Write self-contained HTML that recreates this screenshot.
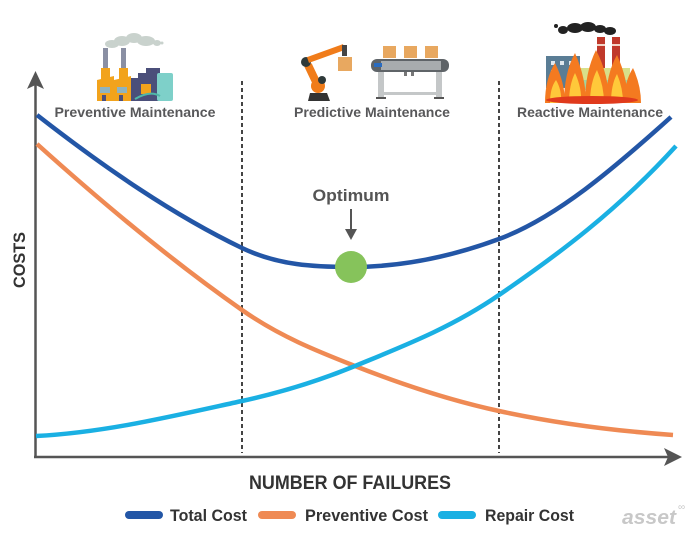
<!DOCTYPE html>
<html><head><meta charset="utf-8"><style>
html,body{margin:0;padding:0;background:#fff;}
svg{display:block;}
text{font-family:"Liberation Sans",Arial,sans-serif;}
</style></head><body>
<svg width="700" height="543" viewBox="0 0 700 543" xmlns="http://www.w3.org/2000/svg">
<rect width="700" height="543" fill="#fff"/>

<!-- Icon 1: preventive factory -->
<g>
<ellipse cx="112" cy="44" rx="7" ry="4" fill="#c9d2cd"/>
<ellipse cx="122" cy="41" rx="8" ry="5" fill="#c9d2cd"/>
<ellipse cx="134" cy="38" rx="8" ry="5" fill="#c9d2cd"/>
<ellipse cx="146" cy="41" rx="9" ry="5" fill="#c9d2cd"/>
<ellipse cx="157" cy="43" rx="4" ry="3" fill="#c9d2cd"/>
<circle cx="162" cy="43" r="1.5" fill="#c9d2cd"/>
<rect x="103" y="48" width="5" height="22" fill="#8a8fa3"/>
<rect x="121" y="48" width="5" height="22" fill="#8a8fa3"/>
<rect x="101" y="68" width="9" height="14" fill="#f2a31c"/>
<rect x="119" y="68" width="9" height="14" fill="#f2a31c"/>
<polygon points="130,101 130,78 138,78 138,73 146,73 146,68 160,68 160,101" fill="#4b4f7a"/>
<rect x="157" y="73" width="16" height="28" rx="2" fill="#7ed0c9"/>
<polygon points="97,101 97,80 114,76 114,80 131,76 131,101" fill="#f2a31c"/>
<rect x="100" y="87" width="10" height="6" fill="#8fb3bf"/>
<rect x="117" y="87" width="10" height="6" fill="#8fb3bf"/>
<rect x="102" y="95" width="4" height="6" fill="#4b4f7a"/>
<rect x="119" y="95" width="4" height="6" fill="#4b4f7a"/>
<rect x="141" y="84" width="10" height="10" fill="#f2a31c"/>
<path d="M135 99 Q150 90 160 96" stroke="#4fb7a8" stroke-width="2" fill="none"/>
</g>

<!-- Icon 2: predictive robot + conveyor -->
<g>
<polygon points="308,101 310,93 327,93 330,101" fill="#333"/>
<circle cx="318" cy="86" r="7" fill="#f07c1a"/>
<line x1="318" y1="86" x2="308" y2="65" stroke="#f07c1a" stroke-width="8"/>
<circle cx="306" cy="62" r="5" fill="#2f3a3a"/>
<line x1="308" y1="60" x2="344" y2="47" stroke="#f07c1a" stroke-width="6"/>
<circle cx="322" cy="80" r="4" fill="#2f3a3a"/>
<rect x="342" y="45" width="5" height="11" fill="#444"/>
<rect x="338" y="57" width="14" height="14" fill="#e8a860"/>
<rect x="371" y="59" width="78" height="13" rx="6" fill="#5f6468"/>
<rect x="381" y="61" width="60" height="9" fill="#a8acae"/>
<rect x="374" y="63" width="8" height="4" fill="#2a6cc0"/>
<rect x="378" y="72" width="6" height="25" fill="#c4c7c8"/>
<rect x="436" y="72" width="6" height="25" fill="#c4c7c8"/>
<rect x="378" y="92" width="64" height="3" fill="#c4c7c8"/>
<rect x="376" y="97" width="10" height="2" fill="#555"/>
<rect x="434" y="97" width="10" height="2" fill="#555"/>
<rect x="404" y="72" width="3" height="4" fill="#777"/>
<rect x="411" y="72" width="3" height="4" fill="#777"/>
<rect x="383" y="46" width="13" height="12" fill="#e8a860"/>
<rect x="404" y="46" width="13" height="12" fill="#e8a860"/>
<rect x="425" y="46" width="13" height="12" fill="#e8a860"/>
</g>

<!-- Icon 3: reactive, burning factory -->
<g>
<ellipse cx="563" cy="30" rx="5" ry="4" fill="#222"/>
<ellipse cx="575" cy="28" rx="8" ry="5" fill="#222"/>
<ellipse cx="588" cy="27" rx="8" ry="5" fill="#222"/>
<ellipse cx="600" cy="29" rx="6" ry="4" fill="#222"/>
<ellipse cx="610" cy="31" rx="6" ry="4" fill="#222"/>
<circle cx="556" cy="26" r="2" fill="#222"/>
<rect x="597" y="37" width="8" height="32" fill="#c0392b"/>
<rect x="612" y="37" width="8" height="32" fill="#c0392b"/>
<rect x="597" y="44" width="8" height="2" fill="#f2d6c8"/>
<rect x="612" y="44" width="8" height="2" fill="#f2d6c8"/>
<rect x="546" y="56" width="34" height="32" fill="#5a7d95"/>
<rect x="551" y="61" width="4" height="4" fill="#dfe8ee"/>
<rect x="560" y="61" width="4" height="4" fill="#dfe8ee"/>
<rect x="569" y="61" width="4" height="4" fill="#dfe8ee"/>
<rect x="551" y="70" width="4" height="4" fill="#dfe8ee"/>
<rect x="569" y="70" width="4" height="4" fill="#dfe8ee"/>
<rect x="570" y="68" width="60" height="12" fill="#d8e08a"/>
<rect x="572" y="80" width="56" height="10" fill="#9fd5a0"/>
<path d="M545 103 Q545 79 555 63 Q565 83 565 103 Z" fill="#f47a20"/>
<path d="M564 103 Q564 73 575 53 Q586 78 586 103 Z" fill="#f47a20"/>
<path d="M585 103 Q585 72 596 50 Q609 75 609 103 Z" fill="#f47a20"/>
<path d="M606 103 Q606 74 617 55 Q628 79 628 103 Z" fill="#f47a20"/>
<path d="M624 103 Q624 82 633 68 Q641 85 641 103 Z" fill="#f47a20"/>
<path d="M550 103 Q550 88 556 80 Q562 90 561 103 Z" fill="#ffc93a"/>
<path d="M569 103 Q569 85 575 73 Q582 88 581 103 Z" fill="#ffc93a"/>
<path d="M590 103 Q590 83 597 70 Q604 86 604 103 Z" fill="#ffc93a"/>
<path d="M611 103 Q611 85 617 74 Q623 88 623 103 Z" fill="#ffc93a"/>
<ellipse cx="592" cy="100" rx="46" ry="4" fill="#e03a1c"/>
</g>

<!-- Section labels -->
<g font-weight="bold" font-size="14" fill="#58585a" text-anchor="middle">
<text x="135" y="117" textLength="161" lengthAdjust="spacingAndGlyphs">Preventive Maintenance</text>
<text x="372" y="117" textLength="156" lengthAdjust="spacingAndGlyphs">Predictive Maintenance</text>
<text x="590" y="117" textLength="146" lengthAdjust="spacingAndGlyphs">Reactive Maintenance</text>
</g>

<!-- Dashed separators -->
<line x1="242" y1="81" x2="242" y2="453" stroke="#444" stroke-width="2" stroke-dasharray="4 3"/>
<line x1="499" y1="81" x2="499" y2="453" stroke="#444" stroke-width="2" stroke-dasharray="4 3"/>

<!-- Axes -->
<line x1="35.5" y1="84" x2="35.5" y2="458" stroke="#555" stroke-width="2.5"/>
<polygon points="35.5,71 44,89 35.5,85 27,89" fill="#555"/>
<line x1="34" y1="457" x2="668" y2="457" stroke="#555" stroke-width="2.5"/>
<polygon points="682,457 664,448 668,457 664,466" fill="#555"/>

<!-- Curves -->
<g fill="none" stroke-width="4.5" stroke-linecap="butt">
<path d="M37 144 C105.3 205.5 173.7 262.2 242 310 C279.7 336.4 317.3 351.2 355 366 C403 384.9 451 400.6 499 411 C557 423.6 615 430.9 673 435" stroke="#ef8a54"/>
<path d="M36 436 C104.7 432.6 173.3 416 242 401 C279.7 392.75 317.3 381.5 355 366 C403 346.2 451 327.9 499 295 C558 254.6 617 210.9 676 146" stroke="#1ab0e3"/>
<path d="M37 115 C105.3 168.3 173.7 215.2 242 248 C278.3 265.4 314.7 267 351 267 C400.3 267 449.7 257.25 499 239 C556.3 217.8 613.7 168.6 671 117" stroke="#2356a6"/>
</g>

<!-- Optimum -->
<circle cx="351" cy="267" r="16" fill="#86c35b"/>
<line x1="351" y1="209" x2="351" y2="232" stroke="#555" stroke-width="2"/>
<polygon points="345,229 357,229 351,240" fill="#555"/>
<text x="351" y="201" font-size="17" font-weight="bold" fill="#555" text-anchor="middle" textLength="77" lengthAdjust="spacingAndGlyphs">Optimum</text>

<!-- Axis titles -->
<text transform="translate(25,260) rotate(-90)" font-size="16.5" font-weight="bold" fill="#333" text-anchor="middle" textLength="56" lengthAdjust="spacingAndGlyphs">COSTS</text>
<text x="249" y="489" font-size="19" font-weight="bold" fill="#333" textLength="202" lengthAdjust="spacingAndGlyphs">NUMBER OF FAILURES</text>

<!-- Legend -->
<g stroke-width="8" stroke-linecap="round">
<line x1="129" y1="515" x2="159" y2="515" stroke="#2356a6"/>
<line x1="262" y1="515" x2="292" y2="515" stroke="#ef8a54"/>
<line x1="442" y1="515" x2="472" y2="515" stroke="#1ab0e3"/>
</g>
<g font-size="17" font-weight="bold" fill="#333">
<text x="170" y="521" textLength="77" lengthAdjust="spacingAndGlyphs">Total Cost</text>
<text x="305" y="521" textLength="123" lengthAdjust="spacingAndGlyphs">Preventive Cost</text>
<text x="485" y="521" textLength="89" lengthAdjust="spacingAndGlyphs">Repair Cost</text>
</g>

<!-- Watermark -->
<text x="622" y="524" font-size="20" font-weight="bold" font-style="italic" fill="#c8c8c8" textLength="54" lengthAdjust="spacingAndGlyphs">asset</text>
<text x="678" y="510" font-size="10" fill="#c8c8c8">∞</text>
</svg>
</body></html>
